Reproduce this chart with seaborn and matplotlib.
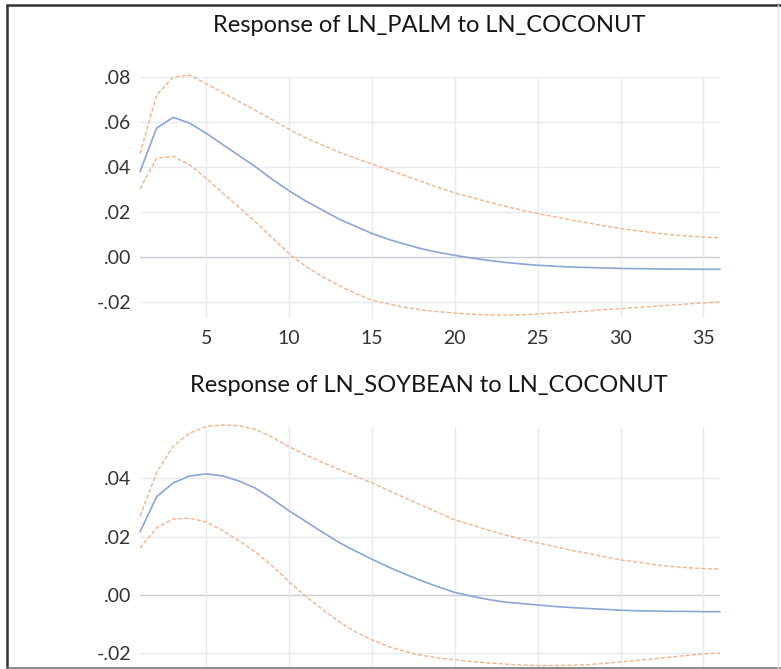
import numpy as np
import pandas as pd
import matplotlib
matplotlib.use("Agg")
import matplotlib.pyplot as plt
from matplotlib.lines import Line2D
import seaborn as sns

periods = list(range(1, 37))

palm_resp = [0.038, 0.0573, 0.0621, 0.0595, 0.055, 0.050, 0.045, 0.040, 0.0345, 0.0295,
             0.025, 0.021, 0.017, 0.0138, 0.0106, 0.008, 0.0058, 0.0038, 0.0022, 0.0009,
             -0.0003, -0.0013, -0.0022, -0.0029, -0.0035, -0.0039, -0.0043, -0.0045, -0.0047, -0.0049,
             -0.005, -0.0051, -0.0052, -0.0052, -0.0053, -0.0053]
palm_upper = [0.046, 0.072, 0.080, 0.0808, 0.077, 0.073, 0.069, 0.065, 0.061, 0.0568,
              0.053, 0.0498, 0.0467, 0.044, 0.0414, 0.0388, 0.0362, 0.0336, 0.031, 0.0286,
              0.0266, 0.0246, 0.0227, 0.021, 0.0194, 0.018, 0.0166, 0.0153, 0.014, 0.0128,
              0.0118, 0.0109, 0.0101, 0.0095, 0.009, 0.0087]
palm_lower = [0.0304, 0.044, 0.0448, 0.041, 0.035, 0.0285, 0.022, 0.0155, 0.0085, 0.0015,
              -0.004, -0.0085, -0.0125, -0.016, -0.019, -0.0207, -0.0222, -0.0233, -0.0241, -0.0247,
              -0.0252, -0.0255, -0.0256, -0.0255, -0.0251, -0.0247, -0.0243, -0.0238, -0.0232, -0.0227,
              -0.0222, -0.0217, -0.0212, -0.0207, -0.0202, -0.0198]

soy_resp = [0.0216, 0.0336, 0.0384, 0.0408, 0.0415, 0.0408, 0.039, 0.0365, 0.0328, 0.0288,
            0.0252, 0.0215, 0.018, 0.015, 0.0122, 0.0095, 0.0071, 0.0048, 0.0027, 0.0008,
            -0.0005, -0.0016, -0.0025, -0.003, -0.0035, -0.004, -0.0044, -0.0047, -0.005, -0.0053,
            -0.0055, -0.0056, -0.0057, -0.0057, -0.0058, -0.0058]
soy_upper = [0.027, 0.042, 0.051, 0.0555, 0.0578, 0.0583, 0.058, 0.0567, 0.054, 0.0508,
             0.048, 0.0455, 0.043, 0.0407, 0.0384, 0.0358, 0.0332, 0.0307, 0.0282, 0.0257,
             0.024, 0.0222, 0.0206, 0.0191, 0.0178, 0.0166, 0.0153, 0.0142, 0.0131, 0.012,
             0.0112, 0.0104, 0.0098, 0.0093, 0.009, 0.0088]
soy_lower = [0.016, 0.023, 0.026, 0.0263, 0.025, 0.022, 0.0185, 0.0145, 0.0098, 0.0045,
             -0.0005, -0.005, -0.0092, -0.0127, -0.0155, -0.0178, -0.0195, -0.0208, -0.0217, -0.0223,
             -0.0229, -0.0234, -0.0238, -0.0241, -0.0243, -0.0243, -0.0242, -0.024, -0.0236, -0.023,
             -0.0225, -0.022, -0.0214, -0.0208, -0.0203, -0.02]

titles = ["Response of LN_PALM to LN_COCONUT", "Response of LN_SOYBEAN to LN_COCONUT"]
x_ticks = [5, 10, 15, 20, 25, 30, 35]
palm_yticks = [-0.02, 0.00, 0.02, 0.04, 0.06, 0.08]
soy_yticks = [-0.02, 0.00, 0.02, 0.04]

sns.set_theme(style="white")
plt.rcParams['font.family'] = ['Lato', 'DejaVu Sans']

W, H = 781, 669
fig = plt.figure(figsize=(W / 100, H / 100), dpi=100)

def fx(px):
    return px / W

def fy(py):
    return 1 - py / H

ax1 = fig.add_axes([fx(140), fy(318), fx(720) - fx(140), fy(77) - fy(318)])
ax2 = fig.add_axes([fx(140), fy(667), fx(720) - fx(140), fy(427) - fy(667)])

blue = "#8aa6d6"
orange = "#f2b48a"
grid_c = "#e8eaf0"
zero_c = "#c8ccd6"

def fmt(v):
    s = f"{v:.2f}"
    return s.replace("0.", ".")

def draw(ax, resp, up, lo, yticks, ylim, show_x):
    df = pd.DataFrame({"period": periods, "resp": resp, "upper": up, "lower": lo})
    for yt in yticks:
        ax.axhline(yt, color=zero_c if abs(yt) < 1e-12 else grid_c, lw=1.0, zorder=0)
    for xt in x_ticks:
        ax.axvline(xt, color=grid_c, lw=1.0, zorder=0)
    sns.lineplot(data=df, x="period", y="upper", ax=ax, color=orange, lw=1.0,
                 linestyle=(0, (3, 1.5)), clip_on=False)
    sns.lineplot(data=df, x="period", y="lower", ax=ax, color=orange, lw=1.0,
                 linestyle=(0, (3, 1.5)), clip_on=False)
    sns.lineplot(data=df, x="period", y="resp", ax=ax, color=blue, lw=1.2, clip_on=False)
    ax.set_xlim(1, 36)
    ax.set_ylim(*ylim)
    ax.set_yticks(yticks)
    ax.set_yticklabels([fmt(v) for v in yticks], fontsize=14, color="#333333")
    ax.set_xticks(x_ticks)
    if show_x:
        ax.set_xticklabels([str(v) for v in x_ticks], fontsize=14, color="#333333")
    else:
        ax.set_xticklabels([])
    ax.tick_params(axis="y", length=0, pad=6)
    ax.tick_params(axis="x", length=0, pad=9)
    ax.set_xlabel("")
    ax.set_ylabel("")
    ax.grid(False)
    for s in ax.spines.values():
        s.set_visible(False)
    ax.set_facecolor("none")

draw(ax1, palm_resp, palm_upper, palm_lower, palm_yticks, (-0.0269, 0.0795), True)
draw(ax2, soy_resp, soy_upper, soy_lower, soy_yticks, (-0.0248, 0.0576), False)

fig.text(fx(429), fy(26), titles[0], ha="center", va="center", fontsize=17, color="#151515")
fig.text(fx(429), fy(386), titles[1], ha="center", va="center", fontsize=17, color="#151515")

# frame around the picture
fig.add_artist(Line2D([fx(7), fx(7)], [fy(5), fy(669)], color="#333333", lw=1.8))
fig.add_artist(Line2D([fx(7), fx(781)], [fy(5), fy(5)], color="#333333", lw=1.8))
fig.add_artist(Line2D([fx(7), fx(781)], [fy(667.5), fy(667.5)], color="#777777", lw=1.2))
fig.add_artist(Line2D([fx(778), fx(778)], [fy(5), fy(669)], color="#e4e4e4", lw=1.0))

fig.savefig("out.png", dpi=100)
